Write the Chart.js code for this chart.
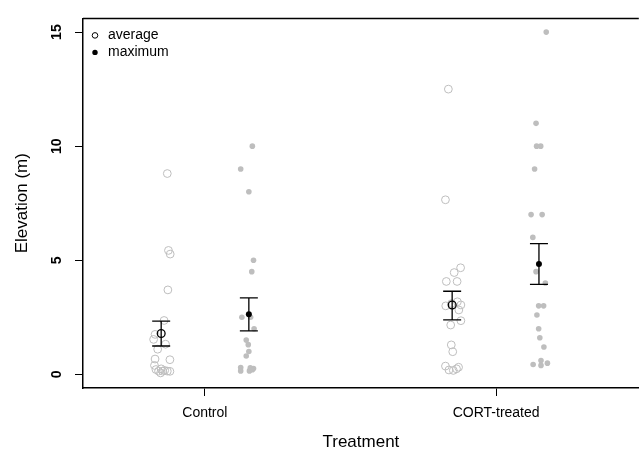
<!DOCTYPE html>
<html><head><meta charset="utf-8">
<script src="https://cdn.jsdelivr.net/npm/chart.js@4.4.0/dist/chart.umd.min.js"></script>
<style>html,body{margin:0;padding:0;background:#fff;overflow:hidden}#wrap{width:644px;height:455px}</style>
</head><body><div id="wrap"><canvas id="c" width="644" height="455"></canvas></div>
<script>
const categories = ['Control', 'CORT-treated'];
const yTickValues = [0, 5, 10, 15];
const legendLabels = ['average', 'maximum'];
const xTitle = 'Treatment';
const yTitle = 'Elevation (m)';

// individual birds (x = category position + jitter)
const controlAvgX = [0.871, 0.875, 0.881, 0.873, 0.860, 0.829, 0.824, 0.838, 0.865, 0.829, 0.880, 0.827, 0.832, 0.841, 0.848, 0.855, 0.862, 0.871, 0.880, 0.850];
const controlAvgY = [8.8, 5.43, 5.27, 3.7, 2.36, 1.75, 1.53, 1.10, 1.32, 0.67, 0.64, 0.39, 0.21, 0.14, 0.06, 0.14, 0.17, 0.14, 0.13, 0.24];
const controlMaxX = [1.163, 1.123, 1.151, 1.167, 1.161, 1.127, 1.157, 1.169, 1.142, 1.149, 1.151, 1.142, 1.123, 1.123, 1.156, 1.167, 1.153, 1.163];
const controlMaxY = [10, 9, 8, 5, 4.5, 2.5, 2.5, 2.0, 1.5, 1.3, 1.0, 0.8, 0.3, 0.15, 0.28, 0.25, 0.15, 0.2];
const cortAvgX = [1.836, 1.826, 1.878, 1.856, 1.829, 1.866, 1.827, 1.867, 1.879, 1.872, 1.847, 1.879, 1.844, 1.846, 1.851, 1.826, 1.838, 1.853, 1.864, 1.871];
const cortAvgY = [12.5, 7.65, 4.67, 4.46, 4.07, 4.07, 3.0, 3.18, 3.04, 2.82, 3.1, 2.35, 2.16, 1.29, 0.99, 0.36, 0.19, 0.17, 0.24, 0.31];
const cortMaxX = [2.172, 2.137, 2.139, 2.153, 2.132, 2.120, 2.158, 2.126, 2.137, 2.169, 2.146, 2.163, 2.140, 2.146, 2.150, 2.164, 2.127, 2.154, 2.154, 2.176];
const cortMaxY = [15, 11, 10, 10, 9, 7, 7, 6, 4.5, 4.0, 3.0, 3.0, 2.6, 2.0, 1.6, 1.2, 0.43, 0.6, 0.39, 0.49];

// group means with standard-error bounds: [Control avg, Control max, CORT avg, CORT max]
const meanX = [0.850, 1.151, 1.849, 2.147];
const meanY = [1.79, 2.63, 3.04, 4.84];
const seLow = [1.24, 1.90, 2.39, 3.94];
const seHigh = [2.33, 3.35, 3.64, 5.73];

const FONT = "'Liberation Sans', Arial, Helvetica, sans-serif";
Chart.defaults.font.family = FONT;
Chart.defaults.color = '#000';

const pts = (xs, ys) => xs.map((x, i) => ({x, y: ys[i]}));
const GREY = '#bebebe';

const frameLegendPlugin = {
  id: 'frameLegend',
  afterDraw(chart) {
    const {ctx, chartArea: a} = chart;
    ctx.save();
    ctx.strokeStyle = '#000';
    ctx.lineWidth = 1.5;
    ctx.beginPath();
    ctx.moveTo(a.left, a.top);
    ctx.lineTo(a.right, a.top);
    ctx.stroke();
    // legend
    ctx.font = '14px ' + FONT;
    ctx.textBaseline = 'middle';
    ctx.textAlign = 'left';
    ctx.fillStyle = '#000';
    const lx = a.left + 12, ly = a.top + 17, dy = 17;
    ctx.lineWidth = 1;
    ctx.beginPath(); ctx.arc(lx, ly, 2.8, 0, Math.PI * 2); ctx.stroke();
    ctx.beginPath(); ctx.arc(lx, ly + dy, 2.7, 0, Math.PI * 2); ctx.fill();
    ctx.fillText(legendLabels[0], lx + 13, ly);
    ctx.fillText(legendLabels[1], lx + 13, ly + dy);
    ctx.restore();
  }
};

const errorBarPlugin = {
  id: 'errorBars',
  afterDatasetsDraw(chart) {
    const {ctx, scales: {x, y}} = chart;
    ctx.save();
    ctx.strokeStyle = '#000';
    ctx.lineWidth = 1.3;
    const half = 9;
    meanX.forEach((mx, i) => {
      const px = x.getPixelForValue(mx);
      const yl = y.getPixelForValue(seLow[i]);
      const yh = y.getPixelForValue(seHigh[i]);
      ctx.beginPath();
      ctx.moveTo(px, yl); ctx.lineTo(px, yh);
      ctx.moveTo(px - half, yl); ctx.lineTo(px + half, yl);
      ctx.moveTo(px - half, yh); ctx.lineTo(px + half, yh);
      ctx.stroke();
    });
    ctx.restore();
  }
};

new Chart(document.getElementById('c'), {
  type: 'scatter',
  data: {
    datasets: [
      {data: pts(controlAvgX, controlAvgY), pointRadius: 3.9, pointBorderWidth: 1, pointBorderColor: GREY, pointBackgroundColor: 'rgba(0,0,0,0)', order: 2},
      {data: pts(cortAvgX, cortAvgY), pointRadius: 3.9, pointBorderWidth: 1, pointBorderColor: GREY, pointBackgroundColor: 'rgba(0,0,0,0)', order: 2},
      {data: pts(controlMaxX, controlMaxY), pointRadius: 2.8, pointBorderWidth: 0, pointBackgroundColor: GREY, order: 2},
      {data: pts(cortMaxX, cortMaxY), pointRadius: 2.8, pointBorderWidth: 0, pointBackgroundColor: GREY, order: 2},
      {data: [0, 2].map(i => ({x: meanX[i], y: meanY[i]})), pointRadius: 3.9, pointBorderWidth: 1.3, pointBorderColor: '#000', pointBackgroundColor: 'rgba(0,0,0,0)', order: 1},
      {data: [1, 3].map(i => ({x: meanX[i], y: meanY[i]})), pointRadius: 3, pointBorderWidth: 0, pointBackgroundColor: '#000', order: 1}
    ]
  },
  options: {
    responsive: false,
    animation: false,
    layout: {padding: {top: 12, right: 0, bottom: 0, left: 0}},
    plugins: {legend: {display: false}, tooltip: {enabled: false}},
    elements: {point: {hoverRadius: 0}},
    scales: {
      x: {
        type: 'linear',
        min: 0.5816, max: 2.4898,
        afterFit(s) { s.height = 67; },
        afterBuildTicks(s) { s.ticks = categories.map((c, i) => ({value: i + 1})); },
        ticks: {
          autoSkip: false, padding: 9, maxRotation: 0,
          font: {size: 14},
          callback: v => categories[Math.round(v) - 1]
        },
        grid: {drawOnChartArea: false, drawTicks: true, tickLength: 8, tickColor: '#000', lineWidth: 1},
        border: {display: true, color: '#000', width: 1.5},
        title: {display: true, text: xTitle, font: {size: 17}, padding: {top: 0, bottom: 2}}
      },
      y: {
        type: 'linear',
        min: -0.6, max: 15.6,
        afterFit(s) { s.width = 83; },
        afterBuildTicks(s) { s.ticks = yTickValues.map(v => ({value: v})); },
        ticks: {
          autoSkip: false, minRotation: 90, maxRotation: 90, crossAlign: 'center', padding: 10,
          font: {size: 14, weight: 'bold'},
          callback: v => String(v)
        },
        grid: {drawOnChartArea: false, drawTicks: true, tickLength: 8, tickColor: '#000', lineWidth: 1},
        border: {display: true, color: '#000', width: 1.5},
        title: {display: true, text: yTitle, font: {size: 17}, padding: {top: 12, bottom: 0}}
      }
    }
  },
  plugins: [errorBarPlugin, frameLegendPlugin]
});
</script>
</body></html>
